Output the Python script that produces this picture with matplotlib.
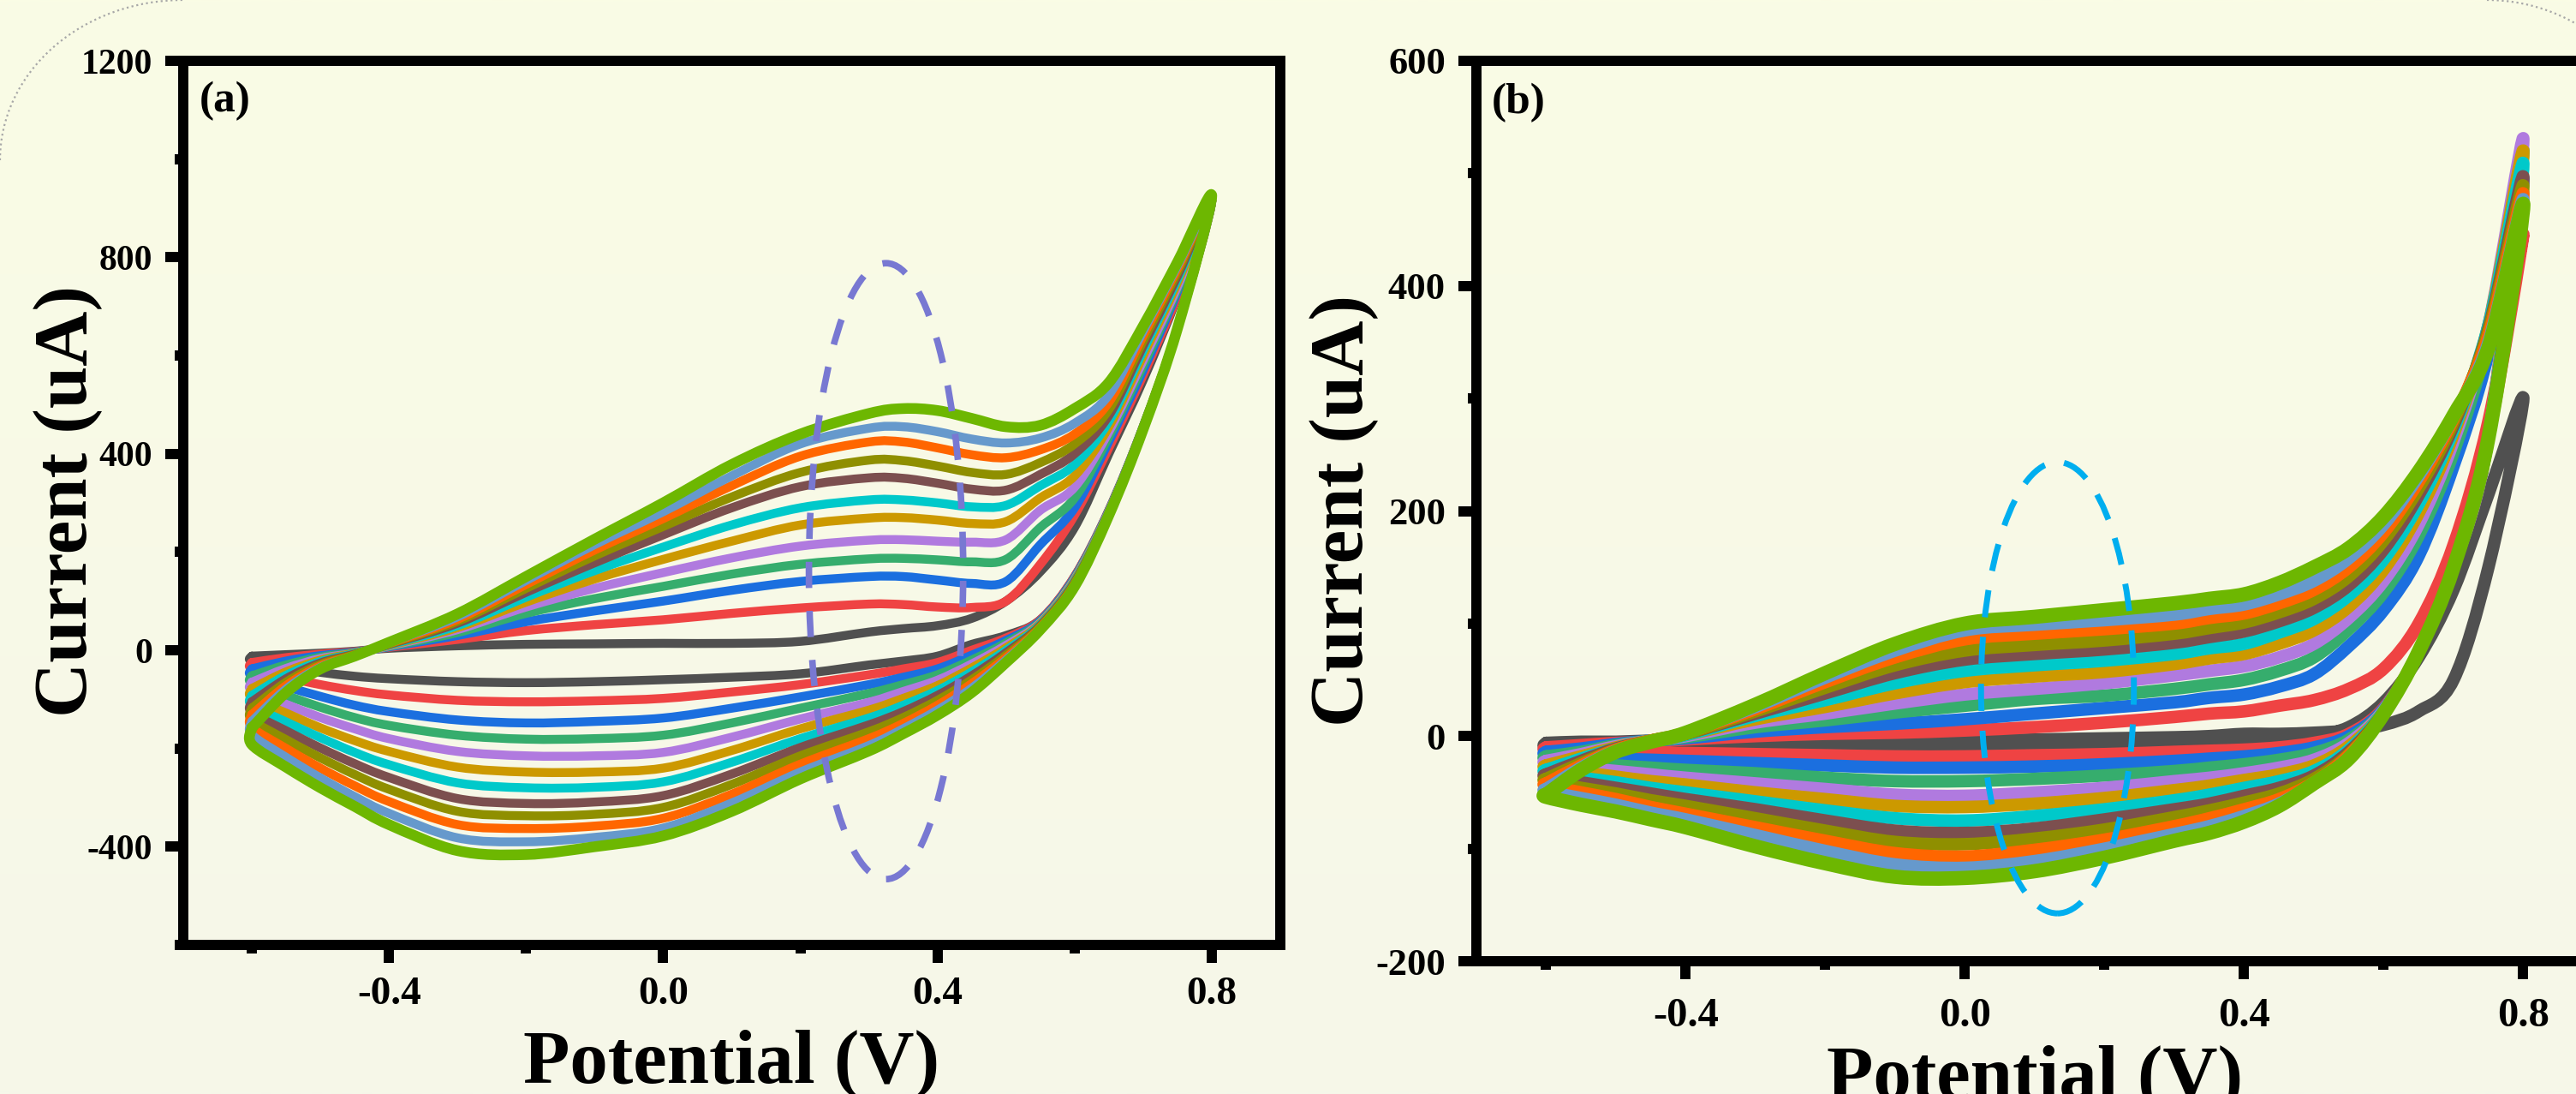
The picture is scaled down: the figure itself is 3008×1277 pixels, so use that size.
import numpy as np
import matplotlib
matplotlib.use('Agg')
import matplotlib.pyplot as plt
from matplotlib.patches import Ellipse, Arc, PathPatch
from matplotlib.path import Path
from matplotlib.ticker import MultipleLocator, FormatStrFormatter

plt.rcParams['font.family'] = ['Liberation Serif', 'DejaVu Serif']
plt.rcParams['font.weight'] = 'bold'

# ---------------- data ----------------
potential = [-0.6, -0.55, -0.5, -0.45, -0.4, -0.3, -0.2, -0.1, 0.0, 0.1, 0.2,
             0.3, 0.35, 0.4, 0.45, 0.5, 0.55, 0.6, 0.65, 0.7, 0.75, 0.8]

colors = ['#505050', '#EF4343', '#1B6FDF', '#36AD6D', '#B07ADF', '#CC9900',
          '#00C9CA', '#7C4F4F', '#8F8F00', '#FF6600', '#6699CC', '#6DB701']

# panel (a): anodic (forward) scans, uA
cur_a_fwd = [
    [-12, -9, -6, -2, 4, 9, 12, 13, 14, 14, 18, 37, 44, 50, 65, 100, 160, 250, 400, 550, 720, 915],
    [-25, -15, -8, -3, 6, 22, 40, 52, 62, 75, 86, 94, 93, 88, 87, 100, 175, 275, 412, 560, 722, 915],
    [-38, -22, -11, -4, 7, 30, 58, 80, 100, 122, 140, 150, 150, 143, 136, 140, 215, 290, 425, 570, 730, 915],
    [-52, -30, -14, -5, 8, 36, 75, 105, 130, 155, 175, 186, 187, 184, 180, 185, 250, 310, 435, 580, 735, 915],
    [-65, -37, -17, -6, 9, 42, 88, 126, 158, 188, 212, 224, 225, 222, 220, 225, 285, 332, 445, 590, 740, 915],
    [-78, -44, -20, -6, 10, 46, 98, 145, 185, 222, 255, 269, 270, 265, 258, 262, 310, 355, 455, 600, 748, 915],
    [-92, -51, -23, -7, 11, 50, 108, 162, 210, 255, 290, 306, 306, 300, 292, 295, 335, 378, 466, 610, 755, 915],
    [-105, -58, -26, -8, 12, 55, 118, 178, 235, 290, 333, 351, 350, 340, 328, 326, 358, 400, 478, 620, 762, 915],
    [-118, -65, -29, -9, 13, 59, 126, 192, 252, 312, 362, 387, 386, 375, 362, 358, 382, 420, 490, 630, 770, 915],
    [-131, -72, -32, -10, 14, 63, 134, 204, 268, 335, 395, 424, 424, 412, 398, 392, 408, 440, 505, 640, 777, 915],
    [-145, -79, -35, -11, 15, 68, 142, 215, 282, 355, 420, 452, 455, 445, 430, 422, 432, 462, 520, 650, 783, 915],
    [-158, -86, -38, -12, 16, 74, 150, 226, 300, 378, 440, 482, 492, 488, 472, 455, 458, 492, 545, 660, 790, 925],
]
# panel (a): cathodic (reverse) scans, listed at the same ascending potentials
cur_a_rev = [
    [-22, -35, -45, -53, -58, -64, -66, -64, -60, -55, -48, -30, -22, -12, 12, 30, 62, 150, 285, 455, 655, 915],
    [-37, -55, -70, -82, -91, -102, -105, -103, -98, -85, -70, -50, -38, -25, 0, 25, 62, 150, 285, 455, 655, 915],
    [-52, -74, -94, -112, -125, -142, -148, -145, -138, -118, -95, -70, -55, -38, -10, 20, 60, 148, 284, 455, 655, 915],
    [-67, -92, -116, -137, -153, -173, -181, -180, -173, -148, -118, -88, -70, -50, -20, 15, 58, 146, 283, 454, 655, 915],
    [-82, -110, -137, -160, -180, -206, -215, -215, -208, -177, -140, -106, -84, -61, -28, 10, 56, 144, 282, 454, 655, 915],
    [-97, -128, -158, -184, -206, -238, -248, -248, -240, -204, -160, -122, -98, -72, -36, 5, 54, 142, 281, 453, 655, 915],
    [-112, -146, -178, -208, -233, -270, -280, -279, -268, -228, -180, -138, -112, -82, -44, 0, 52, 140, 280, 453, 655, 915],
    [-127, -164, -199, -231, -259, -302, -312, -309, -296, -252, -198, -152, -125, -92, -52, -5, 50, 138, 279, 452, 655, 915],
    [-142, -182, -219, -253, -283, -328, -337, -334, -320, -273, -215, -166, -137, -102, -60, -10, 48, 136, 278, 452, 655, 915],
    [-157, -200, -240, -276, -308, -355, -363, -358, -342, -293, -232, -180, -149, -112, -68, -15, 46, 134, 277, 451, 655, 915],
    [-172, -218, -260, -298, -332, -382, -390, -381, -362, -311, -248, -194, -160, -122, -77, -20, 44, 132, 276, 451, 655, 915],
    [-192, -238, -280, -318, -355, -408, -416, -400, -378, -328, -262, -205, -170, -132, -86, -25, 42, 130, 275, 450, 655, 925],
]

# panel (b): anodic (forward) scans, uA
cur_b_fwd = [
    [-6, -5, -5, -4, -4, -3, -3, -4, -4, -3, -2, -1, 0, 2, 2, 3, 5, 10, 22, 50, 150, 300],
    [-10, -8, -6, -5, -3, 0, 2, 3, 5, 8, 12, 17, 20, 22, 27, 32, 42, 60, 100, 170, 280, 446],
    [-14, -11, -7, -4, -2, 4, 8, 11, 15, 20, 25, 30, 34, 37, 44, 55, 80, 112, 160, 240, 340, 495],
    [-18, -14, -8, -4, -1, 8, 14, 21, 27, 33, 36, 42, 46, 50, 58, 70, 95, 128, 178, 252, 355, 520],
    [-22, -16, -9, -4, 0, 12, 20, 29, 37, 42, 47, 54, 58, 62, 70, 82, 105, 138, 188, 262, 365, 530],
    [-26, -18, -10, -4, 1, 15, 26, 38, 48, 53, 57, 64, 69, 73, 82, 94, 115, 148, 198, 268, 365, 519],
    [-30, -20, -11, -4, 1, 18, 32, 47, 58, 63, 67, 73, 78, 82, 92, 104, 125, 157, 206, 272, 365, 508],
    [-34, -22, -11, -4, 2, 20, 38, 56, 68, 73, 77, 83, 88, 93, 102, 114, 134, 166, 214, 276, 362, 496],
    [-38, -24, -12, -4, 2, 22, 43, 63, 76, 81, 85, 91, 96, 101, 110, 122, 142, 174, 220, 279, 360, 488],
    [-42, -26, -12, -4, 3, 24, 48, 70, 86, 91, 95, 100, 105, 109, 118, 130, 150, 181, 226, 282, 356, 481],
    [-47, -28, -13, -5, 3, 26, 52, 76, 94, 99, 103, 108, 113, 117, 126, 138, 158, 188, 231, 284, 350, 476],
    [-52, -30, -14, -5, 3, 28, 56, 82, 100, 106, 112, 118, 122, 126, 136, 150, 167, 195, 235, 285, 345, 472],
]
# panel (b): cathodic (reverse) scans, listed at the same ascending potentials
cur_b_rev = [
    [-9, -9, -9, -9, -9, -9, -8, -8, -8, -7, -6, -5, -5, -4, -3, 0, 8, 30, 70, 130, 215, 300],
    [-12, -13, -14, -15, -15, -16, -17, -18, -18, -17, -16, -14, -13, -12, -10, -6, 2, 25, 75, 150, 265, 446],
    [-16, -18, -20, -21, -22, -24, -26, -28, -28, -27, -25, -22, -20, -18, -15, -10, 0, 24, 75, 150, 265, 495],
    [-20, -23, -26, -28, -30, -33, -37, -40, -40, -38, -35, -31, -28, -25, -21, -15, -3, 23, 75, 150, 265, 520],
    [-24, -28, -31, -34, -37, -42, -47, -52, -53, -50, -46, -40, -37, -33, -28, -21, -6, 23, 75, 150, 265, 530],
    [-28, -32, -36, -40, -43, -50, -56, -62, -63, -60, -55, -48, -44, -39, -34, -26, -9, 22, 75, 150, 265, 519],
    [-32, -37, -41, -46, -50, -58, -66, -73, -75, -71, -65, -57, -52, -46, -40, -31, -12, 22, 75, 150, 265, 508],
    [-36, -41, -46, -51, -56, -65, -75, -84, -86, -82, -74, -65, -60, -53, -46, -35, -14, 21, 75, 150, 265, 496],
    [-40, -46, -51, -57, -62, -73, -84, -94, -96, -91, -83, -72, -66, -59, -51, -38, -16, 21, 75, 150, 265, 488],
    [-44, -50, -56, -63, -69, -81, -93, -104, -107, -101, -92, -80, -73, -65, -56, -41, -17, 20, 75, 150, 265, 481],
    [-49, -55, -61, -68, -74, -88, -102, -114, -117, -111, -100, -87, -80, -71, -60, -42, -19, 20, 75, 150, 265, 476],
    [-54, -61, -67, -74, -81, -98, -113, -125, -126, -120, -108, -93, -86, -76, -62, -42, -20, 20, 75, 150, 265, 472],
]

panel_labels = ['(a)', '(b)']
xlabel_text = 'Potential (V)'
ylabel_text = 'Current (uA)'

# ---------------- figure ----------------
W, H = 3008, 1277
fig = plt.figure(figsize=(W / 100, H / 100), dpi=100)

# background (slight vertical gradient) + faint dotted frame corners
bg = fig.add_axes([0, 0, 1, 1], zorder=-10)
top_c = np.array([250, 252, 229]) / 255.0
bot_c = np.array([246, 247, 233]) / 255.0
t = np.linspace(0, 1, 256)[:, None, None]
grad = top_c[None, None, :] * (1 - t) + bot_c[None, None, :] * t
bg.imshow(grad, extent=[0, W, H, 0], aspect='auto', interpolation='bilinear')
bg.add_patch(Arc((214, 187), 428, 374, theta1=180, theta2=270,
                 color='#A8A8A8', lw=1.6, ls=(0, (1, 1.6))))
bg.add_patch(Arc((2904, 190), 400, 380, theta1=270, theta2=360,
                 color='#A8A8A8', lw=1.6, ls=(0, (1, 1.6))))
bg.set_xlim(0, W)
bg.set_ylim(H, 0)
bg.axis('off')

ax_a = fig.add_axes([214 / W, 1 - 1103 / H, 1281 / W, 1032 / H])
ax_b = fig.add_axes([1724 / W, 1 - 1122 / H, 1304 / W, 1051 / H])


def smooth_loop_path(ax, xs, ys):
    """Smooth curve through every data point (cubic Bezier segments),
    tangents taken from neighbouring points in display space."""
    pts = ax.transData.transform(np.column_stack([xs, ys]))
    n = len(pts)
    verts = [pts[0]]
    codes = [Path.MOVETO]
    for i in range(n - 1):
        p0 = pts[i - 1] if i > 0 else pts[i]
        p1 = pts[i]
        p2 = pts[i + 1]
        p3 = pts[i + 2] if i + 2 < n else pts[i + 1]
        c1 = p1 + (p2 - p0) / 6.0
        c2 = p2 - (p3 - p1) / 6.0
        verts += [c1, c2, p2]
        codes += [Path.CURVE4] * 3
    verts = ax.transData.inverted().transform(np.array(verts))
    return Path(verts, codes)


def draw_panel(ax, fwd, rev, lw, lw_last):
    n = len(fwd)
    for k in range(n):
        x = potential + potential[-2::-1] + [potential[0]]
        y = fwd[k] + rev[k][-2::-1] + [fwd[k][0]]
        path = smooth_loop_path(ax, x, y)
        ax.add_patch(PathPatch(path, fill=False, ec=colors[k],
                               lw=(lw_last if k == n - 1 else lw),
                               joinstyle='round', capstyle='round',
                               zorder=2 + k * 0.01))


ax_a.set_xlim(-0.7, 0.9)
ax_a.set_ylim(-600, 1200)
ax_b.set_xlim(-0.7, 0.9)
ax_b.set_ylim(-200, 600)

draw_panel(ax_a, cur_a_fwd, cur_a_rev, 7.5, 9.0)
draw_panel(ax_b, cur_b_fwd, cur_b_rev, 10.5, 12.0)

ax_a.add_patch(Ellipse((0.325, 161), 0.225, 1254, fill=False, ec='#7878D2',
                       lw=5.5, ls=(0, (4.0, 3.5)), zorder=5))
ax_b.add_patch(Ellipse((0.1325, 43), 0.219, 401, fill=False, ec='#00AEEF',
                       lw=5.0, ls=(0, (4.6, 3.3)), zorder=5))

ax_a.yaxis.set_major_locator(MultipleLocator(400))
ax_a.yaxis.set_minor_locator(MultipleLocator(200))
ax_b.yaxis.set_major_locator(MultipleLocator(200))
ax_b.yaxis.set_minor_locator(MultipleLocator(100))

for ax, ysize, xsize, xpad in [(ax_a, 30, 34, 12), (ax_b, 32, 35, 15)]:
    ax.set_facecolor('none')
    ax.xaxis.set_major_locator(MultipleLocator(0.4))
    ax.xaxis.set_minor_locator(MultipleLocator(0.2))
    ax.xaxis.set_major_formatter(FormatStrFormatter('%.1f'))
    ax.yaxis.set_major_formatter(FormatStrFormatter('%d'))
    for sp in ax.spines.values():
        sp.set_linewidth(8.6)
    ax.tick_params(which='major', direction='out', length=15, width=8.6)
    ax.tick_params(which='minor', direction='out', length=7.5, width=8.6)
    ax.tick_params(axis='y', which='major', labelsize=ysize, pad=11)
    ax.tick_params(axis='x', which='major', labelsize=xsize, pad=xpad)
    for lab in ax.get_xticklabels() + ax.get_yticklabels():
        lab.set_fontweight('bold')
    ax.set_xlabel(xlabel_text, fontsize=64, fontweight='bold')
    ax.set_ylabel(ylabel_text, fontsize=64, fontweight='bold')
    ax.xaxis.label.set_va('baseline')
    ax.yaxis.label.set_va('center')

ax_a.xaxis.set_label_coords(0.5, -0.155)
ax_a.yaxis.set_label_coords(-0.1046, 0.502)
ax_b.xaxis.set_label_coords(0.5, -0.151)
ax_b.yaxis.set_label_coords(-0.1181, 0.5005)

ax_a.text(0.0148, 0.9767, panel_labels[0], transform=ax_a.transAxes,
          ha='left', va='top', fontsize=37, fontweight='bold')
ax_b.text(0.0138, 0.975, panel_labels[1], transform=ax_b.transAxes,
          ha='left', va='top', fontsize=37, fontweight='bold')

fig.savefig('out.png', dpi=100, facecolor=tuple(top_c))
